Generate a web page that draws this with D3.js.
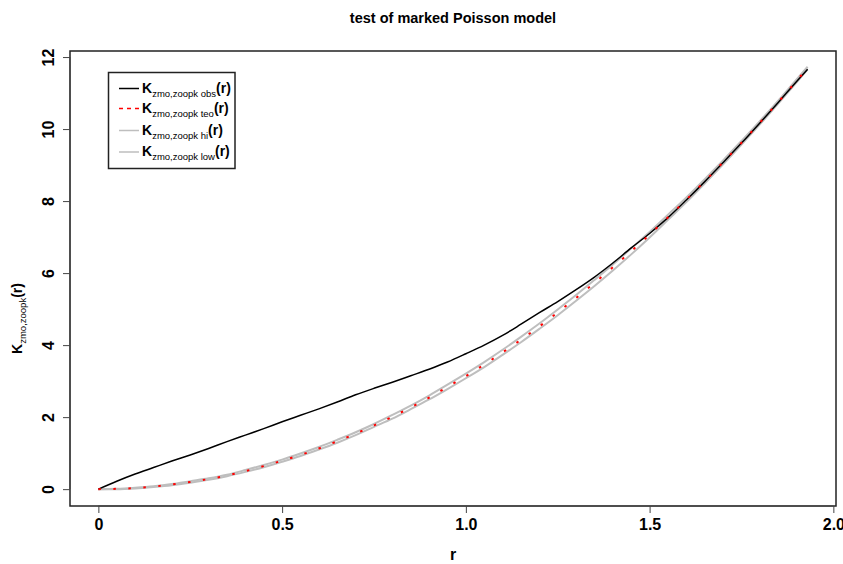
<!DOCTYPE html>
<html>
<head>
<meta charset="utf-8">
<script src="https://cdn.jsdelivr.net/npm/d3@7"></script>
<style>
  html, body { margin: 0; padding: 0; background: #fff; }
  svg text { font-family: "Liberation Sans", Arial, Helvetica, sans-serif; fill: #000; }
</style>
</head>
<body>
<svg id="chart" width="843" height="564"></svg>
<script>
// distance r at which the K-function was estimated
const rValues = [0, 0.05, 0.1, 0.15, 0.2, 0.25, 0.3, 0.35, 0.4, 0.45, 0.5, 0.55, 0.6, 0.65, 0.7,
  0.75, 0.8, 0.85, 0.9, 0.95, 1.0, 1.05, 1.1, 1.15, 1.2, 1.25, 1.3, 1.35, 1.4, 1.45, 1.5,
  1.55, 1.6, 1.65, 1.7, 1.75, 1.8, 1.85, 1.9, 1.93];
// observed cross K-function
const kObs = [0, 0.22, 0.42, 0.60, 0.78, 0.95, 1.13, 1.32, 1.50, 1.68, 1.87, 2.05, 2.23, 2.42, 2.62,
  2.80, 2.97, 3.15, 3.33, 3.53, 3.76, 4.00, 4.27, 4.58, 4.90, 5.21, 5.54, 5.89, 6.28, 6.70, 7.10,
  7.54, 8.03, 8.54, 9.07, 9.61, 10.17, 10.74, 11.32, 11.66];
// theoretical value under the marked Poisson model
const kTeo = [0, 0.01, 0.03, 0.07, 0.13, 0.20, 0.28, 0.38, 0.50, 0.64, 0.79, 0.95, 1.13, 1.33, 1.54,
  1.77, 2.01, 2.27, 2.54, 2.84, 3.14, 3.46, 3.80, 4.15, 4.52, 4.91, 5.31, 5.73, 6.16, 6.61, 7.07,
  7.55, 8.04, 8.55, 9.08, 9.62, 10.18, 10.75, 11.34, 11.70];
// simulation envelope, upper and lower
const kHi = [0, 0.01, 0.04, 0.08, 0.14, 0.22, 0.30, 0.40, 0.53, 0.67, 0.82, 0.99, 1.17, 1.37, 1.58,
  1.81, 2.06, 2.32, 2.60, 2.90, 3.21, 3.53, 3.87, 4.23, 4.60, 4.99, 5.39, 5.81, 6.24, 6.69, 7.14,
  7.62, 8.10, 8.61, 9.13, 9.67, 10.22, 10.79, 11.38, 11.73];
const kLow = [0, 0.00, 0.02, 0.06, 0.11, 0.18, 0.26, 0.36, 0.48, 0.61, 0.76, 0.92, 1.10, 1.29, 1.50,
  1.73, 1.96, 2.22, 2.49, 2.78, 3.08, 3.39, 3.73, 4.08, 4.45, 4.83, 5.23, 5.64, 6.07, 6.52, 6.99,
  7.48, 7.97, 8.49, 9.02, 9.57, 10.13, 10.71, 11.30, 11.66];

const xTicks = [0, 0.5, 1.0, 1.5, 2.0];
const yTicks = [0, 2, 4, 6, 8, 10, 12];
const xTickLabels = ["0", "0.5", "1.0", "1.5", "2.0"];

const titleText = "test of marked Poisson model";
const xTitle = "r";
const subBase = "zmo,zoopk";
const legendItems = [
  { tag: "obs", color: "#000000", dash: null, width: 1.5 },
  { tag: "teo", color: "#ff0000", dash: "4,4", width: 1.4 },
  { tag: "hi", color: "#bebebe", dash: null, width: 1.5 },
  { tag: "low", color: "#bebebe", dash: null, width: 1.5 }
];

const FONT = "Liberation Sans, Arial, Helvetica, sans-serif";
const svg = d3.select("#chart");
const plot = { left: 70, right: 836, top: 51, bottom: 506 };

// data range padded by 4% on both sides
const xMin = 0, xMax = d3.max(rValues);
const yMin = 0, yMax = d3.max(kTeo);
const xPad = (xMax - xMin) * 0.04, yPad = (yMax - yMin) * 0.04;
const x = d3.scaleLinear().domain([xMin - xPad, xMax + xPad]).range([plot.left, plot.right]);
const y = d3.scaleLinear().domain([yMin - yPad, yMax + yPad]).range([plot.bottom, plot.top]);

// curves
const series = (vals) => rValues.map((r, i) => [r, vals[i]]);
const line = d3.line().x(d => x(d[0])).y(d => y(d[1])).curve(d3.curveMonotoneX);

const g = svg.append("g");
[kHi, kLow].forEach(v => {
  g.append("path").attr("d", line(series(v)))
    .attr("fill", "none").attr("stroke", "#bebebe").attr("stroke-width", 2);
});
g.append("path").attr("d", line(series(kObs)))
  .attr("fill", "none").attr("stroke", "#000").attr("stroke-width", 1.5);
g.append("path").attr("d", line(series(kTeo)))
  .attr("fill", "none").attr("stroke", "#ff0000").attr("stroke-width", 2)
  .attr("stroke-dasharray", "2.5,12.5");

// frame
svg.append("rect")
  .attr("x", plot.left).attr("y", plot.top)
  .attr("width", plot.right - plot.left).attr("height", plot.bottom - plot.top)
  .attr("fill", "none").attr("stroke", "#222").attr("stroke-width", 1.5);

// x axis
const xAxis = d3.axisBottom(x).tickValues(xTicks).tickSize(7)
  .tickFormat((d, i) => xTickLabels[i]);
const gx = svg.append("g").attr("transform", `translate(0,${plot.bottom})`).call(xAxis);
gx.select(".domain").attr("stroke", "#444").attr("d", `M${x(xTicks[0])},0H${x(xTicks[xTicks.length - 1])}`);
gx.selectAll(".tick line").attr("stroke", "#444");
gx.selectAll(".tick text").attr("font-size", 16).attr("font-weight", "bold")
  .attr("font-family", FONT).attr("fill", "#000").attr("y", 24).attr("dy", 0);

// y axis, labels rotated as in base graphics
const yAxis = d3.axisLeft(y).tickValues(yTicks).tickSize(7).tickFormat(d3.format("d"));
const gy = svg.append("g").attr("transform", `translate(${plot.left},0)`).call(yAxis);
gy.select(".domain").attr("stroke", "#444").attr("d", `M0,${y(yTicks[0])}V${y(yTicks[yTicks.length - 1])}`);
gy.selectAll(".tick line").attr("stroke", "#444");
gy.selectAll(".tick text").remove();
gy.selectAll(".tick").append("text")
  .attr("transform", "translate(-16,0) rotate(-90)")
  .attr("text-anchor", "middle").attr("dy", "0")
  .attr("font-size", 16).attr("font-weight", "bold")
  .attr("font-family", FONT).attr("fill", "#000")
  .text(d => d);

// title and axis titles
svg.append("text").attr("x", (plot.left + plot.right) / 2).attr("y", 23)
  .attr("text-anchor", "middle").attr("font-size", 14.5).attr("font-weight", "bold")
  .attr("font-family", FONT).text(titleText);
svg.append("text").attr("x", (plot.left + plot.right) / 2).attr("y", 560)
  .attr("text-anchor", "middle").attr("font-size", 16).attr("font-weight", "bold")
  .attr("font-family", FONT).text(xTitle);

// K with a subscript, followed by (r)
function kLabel(sel, subText, big, small) {
  sel.attr("font-family", FONT);
  sel.append("tspan").attr("font-size", big).attr("font-weight", "bold").text("K");
  sel.append("tspan").attr("font-size", small).attr("dy", big * 0.3).text(subText);
  sel.append("tspan").attr("font-size", big).attr("font-weight", "bold").attr("dy", -big * 0.3).text("(r)");
}

const yLab = svg.append("text")
  .attr("transform", `translate(22,${(plot.top + plot.bottom) / 2 + 40}) rotate(-90)`)
  .attr("text-anchor", "middle");
kLabel(yLab, subBase, 14, 9.5);

// legend
const leg = svg.append("g");
const legBox = { x: 108.5, y: 72.5, w: 126.5, h: 96 };
leg.append("rect").attr("x", legBox.x).attr("y", legBox.y)
  .attr("width", legBox.w).attr("height", legBox.h)
  .attr("fill", "#fff").attr("stroke", "#222").attr("stroke-width", 1.5);
const rowY = [88.5, 108.5, 130.5, 152];
legendItems.forEach((it, i) => {
  const ry = rowY[i];
  leg.append("line").attr("x1", 119).attr("x2", 139).attr("y1", ry).attr("y2", ry)
    .attr("stroke", it.color).attr("stroke-width", it.width)
    .attr("stroke-dasharray", it.dash);
  const t = leg.append("text").attr("x", 142).attr("y", ry + 4);
  kLabel(t, subBase + " " + it.tag, 14, 9.5);
});
</script>
</body>
</html>
